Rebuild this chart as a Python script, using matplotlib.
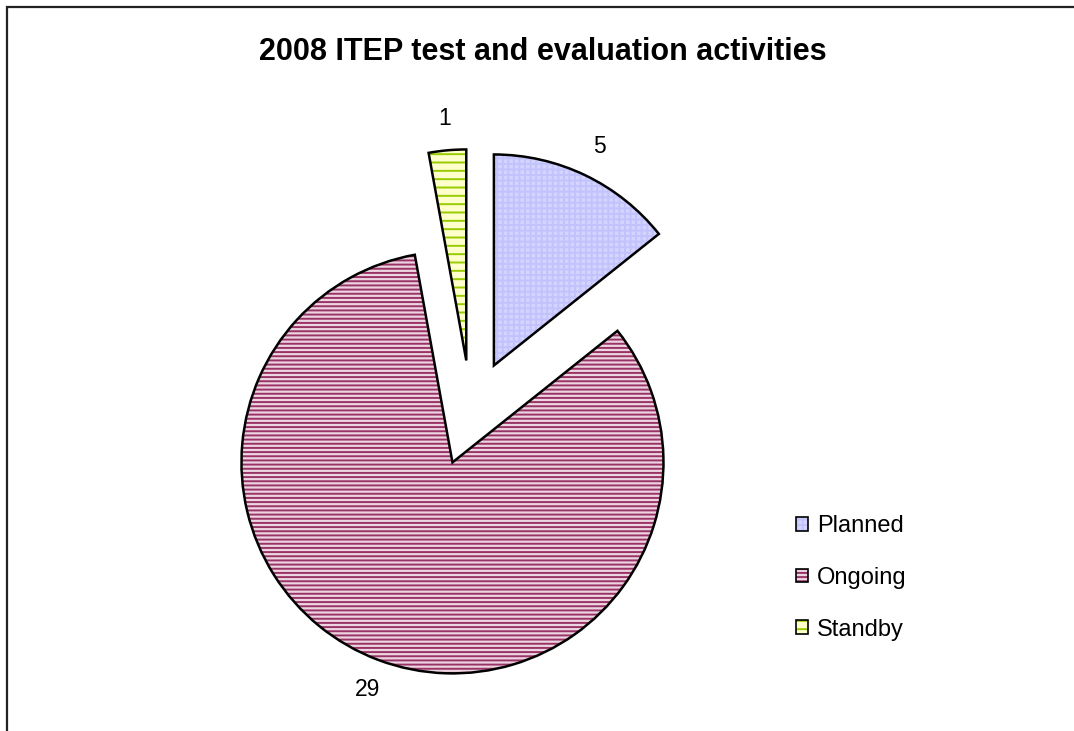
import numpy as np
import matplotlib
matplotlib.use("Agg")
from matplotlib import pyplot as plt
from matplotlib.patches import Patch, Rectangle

plt.rcParams['font.family'] = ['Liberation Sans', 'DejaVu Sans']
plt.rcParams['hatch.linewidth'] = 1.4

title = "2008 ITEP test and evaluation activities"
labels = ["Planned", "Ongoing", "Standby"]
values = [5, 29, 1]
faces = ["#d4d4ff", "#ecd4e0", "#ffffcc"]
hatch_cols = ["#c2c2fc", "#993366", "#99cc00"]
hatches = ["+++", "----", "--"]
explode = [0.25, 0.25, 0.25]

W, H = 1074, 731
fig = plt.figure(figsize=(W / 100, H / 100), dpi=100)
ax = fig.add_axes([0, 0, 1, 1])

# hatched fill
wedges, _ = ax.pie(values, explode=explode, startangle=90, counterclock=False,
                   colors=faces, wedgeprops=dict(linewidth=0))
for w, hc, h in zip(wedges, hatch_cols, hatches):
    w.set_edgecolor(hc)
    w.set_hatch(h)
    w.set_linewidth(0)

# outlines and value labels
ax.pie(values, explode=explode, startangle=90, counterclock=False,
       labels=[str(v) for v in values], labeldistance=1.15,
       wedgeprops=dict(fill=False, edgecolor='black', linewidth=1.8),
       textprops=dict(fontsize=16.5, ha='center', va='center'))

# pie centre at pixel (471, 413), radius 211 px
cx, cy, r = 471, 413, 211
ax.set_xlim(-cx / r, (W - cx) / r)
ax.set_ylim(-(H - cy) / r, cy / r)
ax.set_aspect('equal')
ax.axis('off')

fig.text(543 / W, 1 - 52 / H, title, ha='center', va='center',
         fontsize=22, fontweight='bold')

handles = [(Patch(facecolor=f, edgecolor=hc, hatch=h, linewidth=0),
            Patch(facecolor='none', edgecolor='black', linewidth=1.2))
           for f, hc, h in zip(faces, hatch_cols, hatches)]
fig.legend(handles, labels, loc='center left',
           bbox_to_anchor=(796 / W, 1 - 578 / H), frameon=False,
           fontsize=17, handlelength=0.5, handleheight=0.5,
           handletextpad=0.4, labelspacing=1.25, borderpad=0,
           borderaxespad=0)

fig.add_artist(Rectangle((6.5 / W, -0.1), 2, 1 - 6.5 / H + 0.1,
                         transform=fig.transFigure, fill=False,
                         edgecolor='#222222', linewidth=1.6))

fig.savefig("out.png", dpi=100)
